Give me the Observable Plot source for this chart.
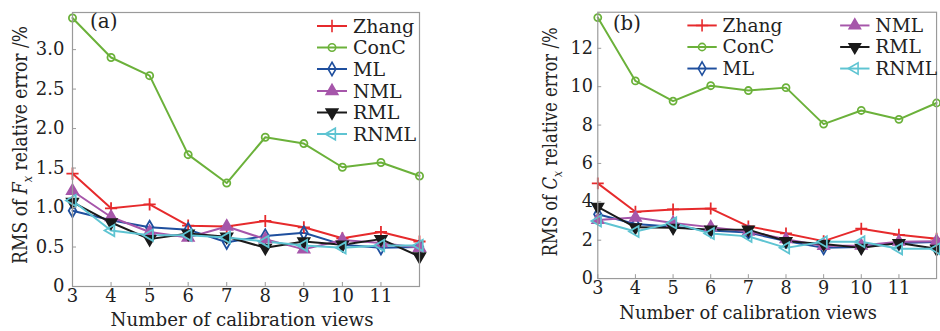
<!DOCTYPE html>
<html>
<head>
<meta charset="utf-8">
<script src="https://cdn.jsdelivr.net/npm/d3@7"></script>
<script src="https://cdn.jsdelivr.net/npm/@observablehq/plot@0.6"></script>
<style>
  html, body { margin: 0; padding: 0; background: #fff; }
  #wrap { position: relative; width: 940px; height: 331px; overflow: hidden; background: #fff; }
  .panel { position: absolute; top: 0; }
  #wrap svg, #wrap svg text, #wrap svg tspan { font-family: "DejaVu Serif", serif !important; }
</style>
</head>
<body>
<div id="wrap">
  <div class="panel" id="pa" style="left:0px"></div>
  <div class="panel" id="pb" style="left:470px"></div>
</div>
<script>
// ---- Data ----
const views = [3, 4, 5, 6, 7, 8, 9, 10, 11, 12];
const methods = ["Zhang", "ConC", "ML", "NML", "RML", "RNML"];
const colors = ["#e62a2c", "#6bb13a", "#1f4f9e", "#a656aa", "#1a1a1a", "#5ec4d2"];

// Panel (a): RMS of Fx relative error /%
const fxZhang = [1.43, 0.99, 1.04, 0.77, 0.76, 0.83, 0.75, 0.61, 0.69, 0.57];
const fxConC  = [3.40, 2.90, 2.67, 1.67, 1.31, 1.89, 1.81, 1.51, 1.57, 1.40];
const fxML    = [0.96, 0.84, 0.75, 0.72, 0.56, 0.64, 0.68, 0.53, 0.49, 0.50];
const fxNML   = [1.21, 0.88, 0.69, 0.62, 0.76, 0.60, 0.47, 0.59, 0.55, 0.49];
const fxRML   = [1.07, 0.81, 0.60, 0.67, 0.63, 0.49, 0.57, 0.53, 0.60, 0.38];
const fxRNML  = [1.09, 0.71, 0.65, 0.65, 0.62, 0.57, 0.52, 0.49, 0.52, 0.52];

// Panel (b): RMS of Cx relative error /%
const cxZhang = [4.96, 3.48, 3.60, 3.65, 2.72, 2.35, 1.95, 2.60, 2.28, 2.08];
const cxConC  = [13.6, 10.3, 9.25, 10.05, 9.80, 9.95, 8.05, 8.76, 8.30, 9.15];
const cxML    = [3.35, 2.84, 2.70, 2.50, 2.40, 1.95, 1.60, 1.65, 1.85, 1.90];
const cxNML   = [3.05, 3.18, 2.90, 2.68, 2.45, 2.05, 1.70, 1.72, 1.92, 1.95];
const cxRML   = [3.74, 2.67, 2.65, 2.55, 2.55, 1.95, 1.80, 1.60, 1.85, 1.55];
const cxRNML  = [3.00, 2.45, 2.90, 2.35, 2.20, 1.60, 1.92, 1.92, 1.55, 1.55];

const fxTicks = [0, 0.5, 1.0, 1.5, 2.0, 2.5, 3.0];
const cxTicks = [0, 2, 4, 6, 8, 10, 12];
const xTicks = [3, 4, 5, 6, 7, 8, 9, 10, 11];

// marker styles per method
const symbols = ["plus", "circle", "diamond", "triangle", "triangle", "triangle"];
const rotations = [0, 0, 0, 0, 180, -90];
const filled = [false, false, false, true, true, false];
const sizes = [4, 3.6, 4, 4.2, 4.2, 4.2];

const FONT = "DejaVu Serif, serif";

function rows(seriesList) {
  const out = [];
  seriesList.forEach((vals, mi) => vals.forEach((v, i) => out.push({method: methods[mi], mi, x: views[i], y: v})));
  return out;
}

function makePanel(opts) {
  const data = rows(opts.series);
  const marks = [];
  methods.forEach((m, mi) => {
    const d = data.filter(r => r.mi === mi);
    marks.push(Plot.line(d, {x: "x", y: "y", stroke: colors[mi], strokeWidth: 2}));
  });
  methods.forEach((m, mi) => {
    const d = data.filter(r => r.mi === mi);
    marks.push(Plot.dot(d, {
      x: "x", y: "y", symbol: () => symbols[mi], r: sizes[mi], rotate: rotations[mi],
      stroke: colors[mi], strokeWidth: 1.8, fill: filled[mi] ? colors[mi] : "none"
    }));
  });
  marks.push(Plot.frame({stroke: "#9a9a9a", strokeWidth: 1.2}));
  marks.push(Plot.axisX({ticks: xTicks, tickSize: -4, tickPadding: 7, label: null, fontSize: 18, stroke: "#9a9a9a"}));
  marks.push(Plot.axisY({ticks: opts.yTicks, tickSize: -4, tickPadding: opts.yPad, label: null, fontSize: 18,
    tickFormat: opts.tickFormat, stroke: "#9a9a9a"}));
  const svg = Plot.plot({
    width: opts.width, height: 331,
    marginLeft: opts.marginLeft, marginRight: opts.marginRight,
    marginTop: 12, marginBottom: opts.marginBottom,
    style: {fontFamily: FONT, fontSize: "18px", color: "#222", background: "#fff"},
    x: {domain: [3, 12]},
    y: {domain: opts.yDomain},
    marks
  });
  return svg;
}

function decorate(svg, o) {
  const s = d3.select(svg);
  // panel label
  s.append("text").attr("x", o.tagX).attr("y", o.tagY).attr("text-anchor", "start")
    .attr("font-size", 20).attr("fill", "#222").text(o.tag);
  // x axis title
  s.append("text").attr("x", o.xTitleX).attr("y", 326).attr("text-anchor", "middle")
    .attr("font-size", 19).attr("fill", "#222")
    .attr("textLength", 263).attr("lengthAdjust", "spacingAndGlyphs")
    .text("Number of calibration views");
  // y axis title with italic variable and subscript
  const t = s.append("text").attr("transform", `translate(${o.yTitleX},${o.yTitleY}) rotate(-90)`)
    .attr("text-anchor", "middle").attr("font-size", 20).attr("fill", "#222")
    .attr("textLength", o.yTitleLen).attr("lengthAdjust", "spacingAndGlyphs");
  t.append("tspan").text("RMS of ");
  t.append("tspan").attr("font-style", "italic").text(o.varName);
  t.append("tspan").attr("font-style", "italic").attr("font-size", 13).attr("dy", 5).text("x");
  t.append("tspan").attr("dy", -5).text(" relative error /%");
  // legend
  const g = s.append("g");
  o.legend.forEach(([mi, lx, ly]) => {
    g.append("line").attr("x1", lx).attr("x2", lx + 30).attr("y1", ly).attr("y2", ly)
      .attr("stroke", colors[mi]).attr("stroke-width", 2);
    const sym = d3.symbol().type({plus: d3.symbolPlus, circle: d3.symbolCircle, diamond: d3.symbolDiamond, triangle: d3.symbolTriangle}[symbols[mi]])
      .size(Math.PI * sizes[mi] * sizes[mi] * 1.05);
    g.append("path").attr("d", sym()).attr("transform", `translate(${lx + 15},${ly}) rotate(${rotations[mi]})`)
      .attr("stroke", colors[mi]).attr("stroke-width", 1.6).attr("fill", filled[mi] ? colors[mi] : "none");
    g.append("text").attr("x", lx + 36).attr("y", ly + 6.5).attr("text-anchor", "start")
      .attr("font-size", 19).attr("fill", "#222").text(methods[mi]);
  });
}

const svgA = makePanel({
  series: [fxZhang, fxConC, fxML, fxNML, fxRML, fxRNML],
  width: 470, marginLeft: 72, marginRight: 51, marginBottom: 45,
  yDomain: [0, 3.47], yTicks: fxTicks, yPad: 12,
  tickFormat: d => d === 0 ? "0" : d3.format(".1f")(d)
});
decorate(svgA, {
  tag: "(a)", tagX: 90, tagY: 28, xTitleX: 242, yTitleX: 27, yTitleY: 145, yTitleLen: 238, varName: "F",
  legend: [[0, 317, 26], [1, 317, 47.5], [2, 317, 69], [3, 317, 91], [4, 317, 112.5], [5, 317, 134]]
});
document.getElementById("pa").appendChild(svgA);

const svgB = makePanel({
  series: [cxZhang, cxConC, cxML, cxNML, cxRML, cxRNML],
  width: 480, marginLeft: 130, marginRight: 4, marginBottom: 47,
  yDomain: [0, 13.88], yTicks: cxTicks, yPad: 9,
  tickFormat: d => String(d)
});
decorate(svgB, {
  tag: "(b)", tagX: 146, tagY: 31, xTitleX: 284, yTitleX: 89, yTitleY: 145, yTitleLen: 234, varName: "C",
  legend: [[0, 222, 26], [1, 222, 48], [2, 222, 70], [3, 378, 26], [4, 378, 48], [5, 378, 70]]
});
document.getElementById("pb").appendChild(svgB);
</script>
</body>
</html>
